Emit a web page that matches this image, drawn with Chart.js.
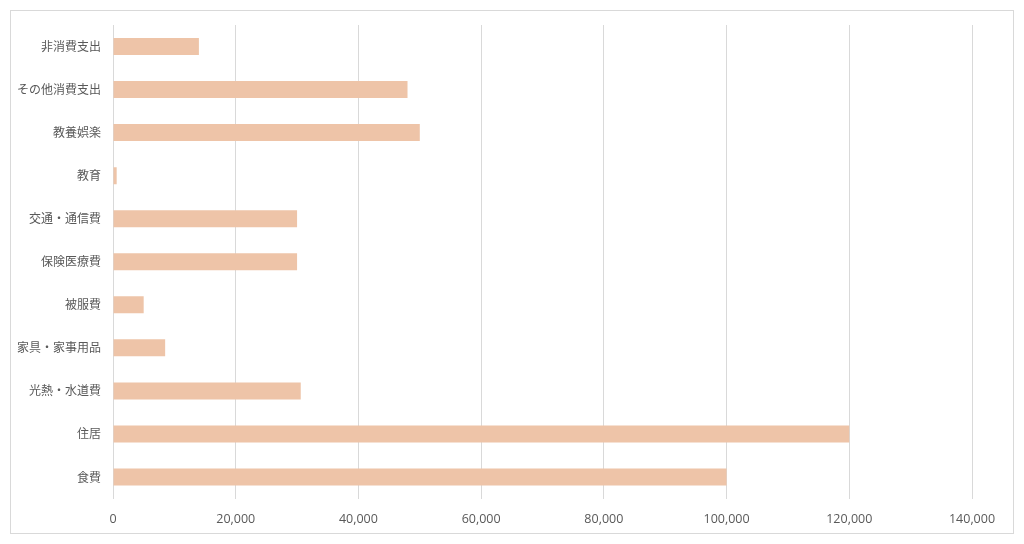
<!DOCTYPE html>
<html><head><meta charset="utf-8">
<script src="https://cdn.jsdelivr.net/npm/chart.js@4"></script>
<style>
html,body{margin:0;padding:0;background:#fff;}
#wrap{position:absolute;left:0;top:0;width:1024px;height:544px;}
#frame{position:absolute;left:10px;top:10px;width:1002px;height:522px;border:1px solid #d9d9d9;pointer-events:none;}
</style></head>
<body>
<div id="wrap"><canvas id="c" width="1024" height="544"></canvas></div>
<div id="frame"></div>
<script>
const categories = ['非消費支出','その他消費支出','教養娯楽','教育','交通・通信費','保険医療費','被服費','家具・家事用品','光熱・水道費','住居','食費'];
const values = [14000, 48000, 50000, 600, 30000, 30000, 5000, 8500, 30600, 120000, 100000];
const xTicks = [0, 20000, 40000, 60000, 80000, 100000, 120000, 140000];

new Chart(document.getElementById('c'), {
  type: 'bar',
  data: {
    labels: categories,
    datasets: [{ data: values, backgroundColor: '#EEC4A8', borderWidth: 0,
      categoryPercentage: 1.0, barPercentage: 0.395 }]
  },
  options: {
    indexAxis: 'y',
    responsive: false,
    animation: false,
    devicePixelRatio: 1,
    layout: { padding: { top: 25, right: 52, bottom: 0, left: 0 } },
    plugins: { legend: { display: false }, tooltip: { enabled: false } },
    scales: {
      x: {
        min: xTicks[0], max: xTicks[xTicks.length - 1],
        afterBuildTicks: s => { s.ticks = xTicks.map(v => ({ value: v })); },
        afterFit: s => { s.height = 45.5; },
        grid: { color: '#d9d9d9', lineWidth: 1, drawTicks: false },
        border: { display: false },
        ticks: { padding: 13, color: '#595959', font: { family: 'Open Sans', size: 12.5 },
          callback: v => v.toLocaleString('en-US') }
      },
      y: {
        afterFit: s => { s.width = 113; },
        grid: { display: false, drawTicks: false },
        border: { display: false },
        ticks: { padding: 12, color: '#595959', font: { family: 'Noto Sans CJK JP', size: 12 } }
      }
    }
  }
});
</script>
</body></html>
